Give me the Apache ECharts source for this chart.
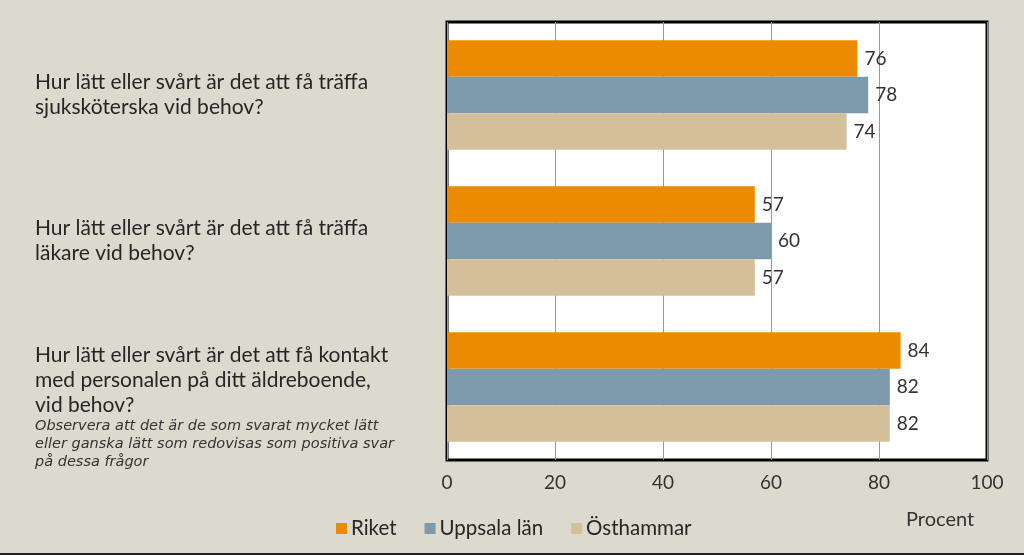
<!DOCTYPE html>
<html>
<head>
<meta charset="utf-8">
<script src="https://cdn.jsdelivr.net/npm/echarts@6/dist/echarts.min.js"></script>
<style>
html,body{margin:0;padding:0;background:#dcd9ce;}
#c{width:1024px;height:555px;}
</style>
</head>
<body>
<div id="c"></div>
<script>
const categories = [
  'Hur lätt eller svårt är det att få träffa\nsjuksköterska vid behov?',
  'Hur lätt eller svårt är det att få träffa\nläkare vid behov?',
  'Hur lätt eller svårt är det att få kontakt\nmed personalen på ditt äldreboende,\nvid behov?'
];
const noteText = 'Observera att det är de som svarat mycket lätt\neller ganska lätt som redovisas som positiva svar\npå dessa frågor';
const seriesNames = ['Riket', 'Uppsala län', 'Östhammar'];
const riket = [76, 57, 84];
const uppsalaLan = [78, 60, 82];
const osthammar = [74, 57, 82];
const xMin = 0, xMax = 100, xStep = 20;
const axisName = 'Procent';

const colors = ['#ec8a00', '#7c9aab', '#d3c09a'];
const FONT = 'Lato, "Noto Sans", sans-serif';

const chart = echarts.init(document.getElementById('c'));
function mk(name, data, color) {
  return {
    name: name, type: 'bar', data: data, barGap: '0%', barCategoryGap: '25%',
    itemStyle: { color: color },
    label: { show: true, position: 'right', distance: 7, fontSize: 19, color: '#333', fontFamily: FONT },
    emphasis: { disabled: true }
  };
}
chart.setOption({
  backgroundColor: '#dcd9ce',
  animation: false,
  textStyle: { fontFamily: FONT },
  title: {
    text: axisName, left: 901, top: 505,
    textStyle: { fontSize: 20, fontWeight: 'normal', color: '#333', fontFamily: FONT }
  },
  legend: {
    data: seriesNames, left: 331, top: 513, itemWidth: 11, itemHeight: 11, itemGap: 28,
    icon: 'rect',
    textStyle: { fontSize: 20.5, color: '#262626', fontFamily: FONT, padding: [0, 0, 0, -1] }
  },
  grid: {
    left: 447, right: 37, top: 22, bottom: 95, show: true,
    backgroundColor: '#fff', borderColor: '#000', borderWidth: 3, containLabel: false
  },
  xAxis: {
    type: 'value', min: xMin, max: xMax, interval: xStep,
    axisLine: { show: false }, axisTick: { show: false },
    splitLine: { show: true, lineStyle: { color: '#9a9a9a', width: 1 } },
    axisLabel: { fontSize: 19, color: '#333', margin: 13, fontFamily: FONT }
  },
  yAxis: {
    type: 'category', data: categories, inverse: true,
    axisLine: { show: false }, axisTick: { show: false },
    axisLabel: {
      align: 'left', margin: 412, fontFamily: FONT,
      formatter: function (v, idx) {
        const out = [];
        if (idx === 2) out.push('{s| }');
        v.split('\n').forEach(function (l) { out.push('{q|' + l + '}'); });
        if (idx === 2) {
          noteText.split('\n').forEach(function (l) { out.push('{n|' + l + '}'); });
        }
        return out.join('\n');
      },
      rich: {
        q: { fontSize: 21, lineHeight: 25, color: '#262626', fontFamily: FONT, align: 'left' },
        s: { fontSize: 10, lineHeight: 40, align: 'left' },
        n: { fontSize: 14.5, lineHeight: 18, color: '#333', fontStyle: 'italic', fontFamily: '"DejaVu Sans", sans-serif', align: 'left' }
      }
    }
  },
  graphic: [{
    type: 'rect', left: 0, top: 553, shape: { width: 1024, height: 2 },
    style: { fill: '#222' }, silent: true
  }],
  series: [
    mk(seriesNames[0], riket, colors[0]),
    mk(seriesNames[1], uppsalaLan, colors[1]),
    mk(seriesNames[2], osthammar, colors[2])
  ]
});
</script>
</body>
</html>
